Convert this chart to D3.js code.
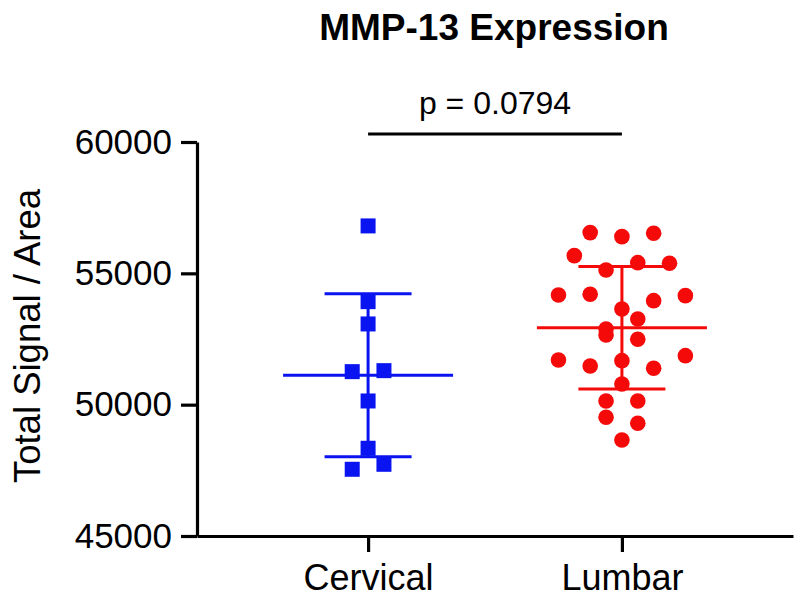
<!DOCTYPE html>
<html>
<head>
<meta charset="utf-8">
<script src="https://cdn.jsdelivr.net/npm/d3@7"></script>
<style>
  html, body { margin: 0; padding: 0; background: #fff; }
  svg { display: block; }
  text { font-family: "Liberation Sans", Arial, Helvetica, sans-serif; fill: #000; }
</style>
</head>
<body>
<svg id="chart" width="800" height="600"></svg>
<script>
// ---- data ----
const categories = ["Cervical", "Lumbar"];
const cervicalValues = [56805, 53922, 53073, 51257, 51295, 50141, 48340, 47540, 47730];
const lumbarValues = [
  56550, 56397, 56527,
  55674, 55129, 55407, 55385,
  54177, 54204, 53644, 53960, 54151,
  52883, 53263,
  52654, 52490,
  51702, 51474, 51675, 51386, 51866,
  50788,
  50141, 50141,
  49520, 49292,
  48656
];
const yTicks = [45000, 50000, 55000, 60000];
const seriesColors = ["#0a14f0", "#f50a0a"];
const chartTitle = "MMP-13 Expression";
const yLabel = "Total Signal / Area";
const pLabel = "p = 0.0794";

// ---- layout ----
const svg = d3.select("#chart");
const axisLeftX = 197, axisRightX = 793, yTop = 142, yBottom = 536;

const x = d3.scalePoint().domain(categories).range([axisLeftX, axisRightX]).padding(0.674);
const y = d3.scaleLinear().domain([45000, 60000]).range([yBottom, yTop]);

const series = [
  { name: categories[0], values: cervicalValues, color: seriesColors[0], shape: "square" },
  { name: categories[1], values: lumbarValues, color: seriesColors[1], shape: "circle" }
];

const laneStep = x.step() * 0.125;
const rowTol = 15.5;

function layout(values) {
  const pts = values.map((v, i) => ({ v, i, py: y(v) }));
  const sorted = pts.slice().sort((a, b) => a.py - b.py || a.i - b.i);
  const rows = [];
  let cur = null;
  sorted.forEach(p => {
    if (!cur || p.py - cur.start > rowTol) { cur = { start: p.py, pts: [] }; rows.push(cur); }
    cur.pts.push(p);
  });
  rows.forEach(r => {
    r.pts.sort((a, b) => a.i - b.i);
    const n = r.pts.length;
    r.pts.forEach((p, k) => { p.off = (k - (n - 1) / 2) * laneStep; });
  });
  return pts;
}

// axes
const gy = svg.append("g").attr("transform", `translate(${axisLeftX},0)`)
  .call(d3.axisLeft(y).tickValues(yTicks).tickFormat(d3.format("d")).tickSize(16).tickSizeOuter(0).tickPadding(9));
gy.select(".domain").attr("stroke", "#000").attr("stroke-width", 3.2);
gy.selectAll(".tick line").attr("stroke", "#000").attr("stroke-width", 3.2);
gy.selectAll(".tick text").style("font-size", "35px").attr("fill", "#000");

const gx = svg.append("g").attr("transform", `translate(0,${yBottom})`)
  .call(d3.axisBottom(x).tickSize(16).tickSizeOuter(0).tickPadding(12));
gx.select(".domain").attr("stroke", "#000").attr("stroke-width", 3.2);
gx.selectAll(".tick line").attr("stroke", "#000").attr("stroke-width", 3.2);
gx.selectAll(".tick text").style("font-size", "36px").attr("fill", "#000");

// points and error bars
series.forEach(s => {
  const cx = x(s.name);
  const pts = layout(s.values);
  const g = svg.append("g");
  if (s.shape === "square") {
    g.selectAll("rect").data(pts).join("rect")
      .attr("x", d => cx + d.off - 7.5).attr("y", d => d.py - 7.5)
      .attr("width", 15).attr("height", 15).attr("fill", s.color);
  } else {
    g.selectAll("circle").data(pts).join("circle")
      .attr("cx", d => cx + d.off).attr("cy", d => d.py)
      .attr("r", 7.8).attr("fill", s.color);
  }
  const m = d3.mean(s.values), sd = d3.deviation(s.values);
  const lg = svg.append("g").attr("stroke", s.color).attr("stroke-width", 3);
  lg.append("line").attr("x1", cx).attr("x2", cx).attr("y1", y(m + sd)).attr("y2", y(m - sd));
  lg.append("line").attr("x1", cx - 85).attr("x2", cx + 85).attr("y1", y(m)).attr("y2", y(m));
  [m + sd, m - sd].forEach(v => {
    lg.append("line").attr("x1", cx - 43.5).attr("x2", cx + 43.5).attr("y1", y(v)).attr("y2", y(v));
  });
});

// significance bracket
svg.append("line")
  .attr("x1", x(categories[0])).attr("x2", x(categories[1]))
  .attr("y1", 134).attr("y2", 134)
  .attr("stroke", "#000").attr("stroke-width", 3);
svg.append("text").attr("x", (x(categories[0]) + x(categories[1])) / 2).attr("y", 114)
  .attr("text-anchor", "middle").style("font-size", "32px").text(pLabel);

// title
svg.append("text").attr("x", 494).attr("y", 40).attr("text-anchor", "middle")
  .style("font-size", "37px").style("font-weight", "bold").text(chartTitle);

// y label
svg.append("text").attr("transform", `translate(40,336) rotate(-90)`)
  .attr("text-anchor", "middle").style("font-size", "36.5px").text(yLabel);
</script>
</body>
</html>
